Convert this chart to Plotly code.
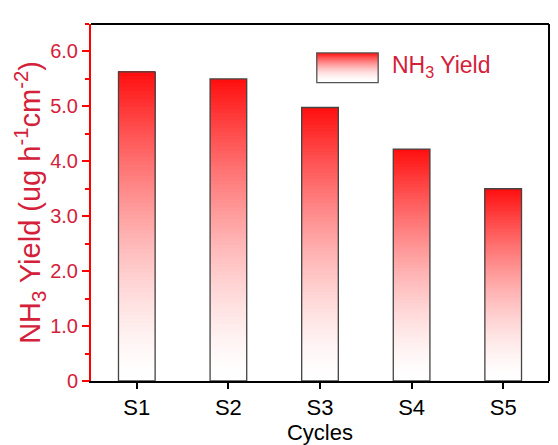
import plotly.graph_objects as go

categories = ["S1", "S2", "S3", "S4", "S5"]
values = [5.63, 5.50, 4.98, 4.22, 3.50]
ytick_vals = [0, 1, 2, 3, 4, 5, 6]
ytick_text = ["0", "1.0", "2.0", "3.0", "4.0", "5.0", "6.0"]

N = 80
RED = (255, 14, 14)


def mix(t):
    # t=0 -> white, t=1 -> red
    t = max(0.0, min(1.0, t))
    r = round(255 + (RED[0] - 255) * t)
    g = round(255 + (RED[1] - 255) * t)
    b = round(255 + (RED[2] - 255) * t)
    return f"rgb({r},{g},{b})"


fig = go.Figure()
for i in range(N):
    h = (i + 0.5) / N
    # each slice reaches to the bar top; later slices cover earlier ones -> no seams
    fig.add_trace(go.Bar(
        x=categories,
        y=[v * (N - i) / N for v in values],
        base=[v * i / N for v in values],
        width=0.4,
        marker=dict(color=mix(h ** 1.5), line=dict(width=0)),
        showlegend=False, hoverinfo="skip",
    ))
# outline
fig.add_trace(go.Bar(
    x=categories, y=values, width=0.4,
    marker=dict(color="rgba(0,0,0,0)", line=dict(color="#444444", width=1.3)),
    showlegend=False, name="NH3 Yield",
))

font_family = "Liberation Sans, Arial, sans-serif"
label_red = "#d4213a"

# legend swatch (gradient) built from shapes
shapes = []
x0, x1 = 0.493, 0.627
y_top, y_bot = 0.919, 0.836
M = 30
for i in range(M):
    ya = y_bot + (y_top - y_bot) * i / M
    shapes.append(dict(type="rect", xref="paper", yref="paper", x0=x0, x1=x1, y0=ya, y1=y_top,
                       fillcolor=mix(((i + 0.5) / M) ** 1.8), line=dict(width=0), layer="above"))
shapes.append(dict(type="rect", xref="paper", yref="paper", x0=x0, x1=x1, y0=y_bot, y1=y_top,
                   fillcolor="rgba(0,0,0,0)", line=dict(color="#555555", width=1.3), layer="above"))
# top and right frame lines
shapes.append(dict(type="line", xref="paper", yref="paper", x0=0, x1=1, y0=1, y1=1,
                   line=dict(color="black", width=2)))
shapes.append(dict(type="line", xref="paper", yref="paper", x0=1, x1=1, y0=0, y1=1,
                   line=dict(color="black", width=2)))

fig.update_layout(
    barmode="overlay",
    width=558, height=445,
    margin=dict(l=91, r=9, t=24, b=62),
    paper_bgcolor="white", plot_bgcolor="white",
    font=dict(family=font_family),
    shapes=shapes,
    annotations=[dict(text="NH<sub>3</sub> Yield", xref="paper", yref="paper",
                      x=0.653, y=0.880, xanchor="left", yanchor="middle", showarrow=False,
                      font=dict(size=23, color=label_red, family=font_family))],
    xaxis=dict(
        range=[-0.5, 4.5], showline=True, linecolor="black", linewidth=2,
        ticks="outside", ticklen=6, tickwidth=2, tickcolor="black",
        tickfont=dict(size=22, color="black"),
        minor=dict(ticks="outside", ticklen=3, tickwidth=2, tickcolor="black", dtick=1, tick0=0.5),
        title=dict(text="Cycles", font=dict(size=22, color="black"), standoff=0),
        showgrid=False, zeroline=False,
    ),
    yaxis=dict(
        range=[0, 6.5], showline=True, linecolor="red", linewidth=2,
        tickvals=ytick_vals, ticktext=ytick_text,
        ticks="outside", ticklen=7, tickwidth=2, tickcolor="red",
        tickfont=dict(size=20, color=label_red),
        minor=dict(ticks="outside", ticklen=4, tickwidth=2, tickcolor="red", dtick=0.5, tick0=0),
        title=dict(text="NH<sub>3</sub> Yield (ug h<sup>-1</sup>cm<sup>-2</sup>)",
                   font=dict(size=29, color=label_red), standoff=1),
        showgrid=False, zeroline=False,
    ),
)

fig.write_html("out.html")
